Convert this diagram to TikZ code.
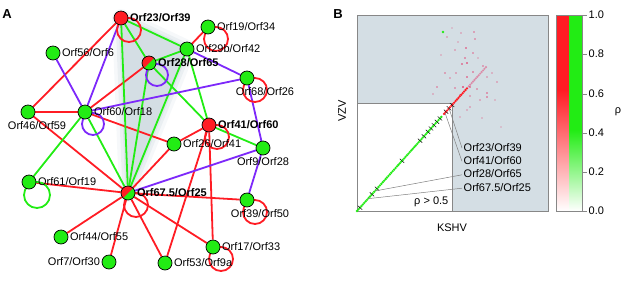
\documentclass[tikz,border=0pt]{standalone}
\usepackage{fontspec}
\setmainfont{Liberation Sans}
\usetikzlibrary{positioning, calc, backgrounds}

\definecolor{netred}{RGB}{255,28,36}
\definecolor{netgreen}{RGB}{34,236,20}
\definecolor{netpurple}{RGB}{125,40,250}
\definecolor{hullgray}{RGB}{212,222,228}
\definecolor{framegray}{RGB}{135,135,135}
\definecolor{dotpink}{RGB}{228,40,95}
\definecolor{barpink}{RGB}{255,90,140}

\begin{document}
\begin{tikzpicture}[
        x=1pt, y=-1pt,
        font=\fontsize{11}{13}\selectfont,
        % Styles
        orf/.style={circle, draw=black, line width=0.7pt, minimum size=14pt, inner sep=0pt, fill=#1},
        orfsplit/.style={orf=netgreen, path picture={\fill[netred] (path picture bounding box.south west) -- (path picture bounding box.north east) -- (path picture bounding box.north west) -- cycle;}},
        lbl/.style={inner sep=1.5pt},
        hub/.style={lbl, font=\fontsize{11}{13}\selectfont\bfseries},
        blbl/.style={lbl, text height=8pt, text depth=2pt},
        rlink/.style={draw=netred, line width=1.8pt},
        glink/.style={draw=netgreen, line width=1.8pt},
        plink/.style={draw=netpurple, line width=1.8pt},
        leader/.style={draw=gray, line width=0.5pt},
        panel/.style={font=\fontsize{13}{15}\selectfont\bfseries}
    ]
    \useasboundingbox (0,0) rectangle (627,282);

    % Panel A: nodes
    \node[panel] (pa) at (7,14) {A};
    \node[orf=netred, label={[hub]right:Orf23/Orf39}] (orf23) at (121,18) {};
    \node[orf=netgreen, label={[lbl]right:Orf19/Orf34}] (orf19) at (208,27) {};
    \node[orf=netgreen, label={[lbl]right:Orf29b/Orf42}] (orf29b) at (187,49) {};
    \node[orfsplit, label={[hub]right:Orf28/Orf65}] (orf28) at (149,63) {};
    \node[orf=netgreen, label={[lbl]right:Orf56/Orf6}] (orf56) at (53,53) {};
    \node[orf=netgreen, label={[lbl, xshift=18pt]below:Orf68/Orf26}] (orf68) at (247,78) {};
    \node[orf=netgreen, label={[lbl]right:Orf60/Orf18}] (orf60) at (85,112) {};
    \node[orf=netgreen, label={[lbl, xshift=9pt]below:Orf46/Orf59}] (orf46) at (28,112) {};
    \node[orf=netred, label={[hub]right:Orf41/Orf60}] (orf41) at (209,125) {};
    \node[orf=netgreen, label={[lbl]right:Orf26/Orf41}] (orf26) at (174,144) {};
    \node[orf=netgreen, label={[lbl]below:Orf9/Orf28}] (orf9) at (263,148) {};
    \node[orf=netgreen, label={[lbl]right:Orf61/Orf19}] (orf61) at (29,182) {};
    \node[orfsplit, label={[hub]right:Orf67.5/Orf25}] (orf67) at (128,193) {};
    \node[orf=netgreen, label={[lbl, xshift=13pt]below:Orf39/Orf50}] (orf39) at (247,200) {};
    \node[orf=netgreen, label={[lbl]right:Orf44/Orf55}] (orf44) at (61,237) {};
    \node[orf=netgreen, label={[lbl]left:Orf7/Orf30}] (orf7) at (109,262) {};
    \node[orf=netgreen, label={[lbl]right:Orf17/Orf33}] (orf17) at (213,247) {};
    \node[orf=netgreen, label={[lbl]right:Orf53/Orf9a}] (orf53) at (165,263) {};

    % Panel A: hull and links under the nodes
    \begin{scope}[on background layer]
        \fill[hullgray] (orf23.center) -- (orf29b.center) -- (orf67.center) -- cycle;
        \foreach \w/\o in {18/0.2, 11/0.35, 5/0.6}
            \draw[hullgray, line width=\w pt, opacity=\o, line join=round] (orf23.center) -- (orf29b.center) -- (orf67.center) -- cycle;

        \foreach \a/\b in {orf23/orf46, orf19/orf29b, orf28/orf60, orf46/orf60, orf46/orf67, orf60/orf26, orf41/orf26, orf26/orf67, orf61/orf67, orf67/orf44, orf67/orf7, orf67/orf53, orf67/orf17, orf67/orf39, orf41/orf53, orf41/orf17}
            \draw[rlink] (\a) -- (\b);
        \foreach \a/\b in {orf23/orf29b, orf23/orf28, orf23/orf67, orf28/orf29b, orf28/orf41, orf28/orf67, orf29b/orf41, orf29b/orf67, orf60/orf67, orf60/orf61, orf41/orf9}
            \draw[glink] (\a) -- (\b);
        \foreach \a/\b in {orf23/orf60, orf56/orf60, orf60/orf68, orf29b/orf68, orf68/orf9, orf9/orf39, orf9/orf67}
            \draw[plink] (\a) -- (\b);

        % self loops
        \foreach \n in {orf23, orf19, orf68, orf41, orf67, orf39, orf17}
            \draw[rlink] ([shift={(8,12)}]\n.center) circle[radius=12pt];
        \foreach \n in {orf28, orf60}
            \draw[plink] ([shift={(8,12)}]\n.center) circle[radius=11pt];
        \draw[glink] ([shift={(8,13)}]orf61.center) circle[radius=13pt];
    \end{scope}

    % Panel B: plot area
    \node[panel] (pb) at (338,14) {B};
    \fill[hullgray] (357,15) rectangle (548,211);
    \fill[white] (357,103) rectangle (452,211);
    \draw[framegray] (357,103) -| (452,211);
    \draw[framegray] (357,15) rectangle (548,211);

    % scatter above threshold
    \foreach \px/\py/\op in {474/32/0.5, 461/33/0.35, 447/37/0.4, 475/39/0.5, 466/48/0.7, 455/50/0.4, 473/53/0.5, 465/58/0.6, 467/63/0.8, 462/64/0.7, 483/66/0.5, 445/73/0.5, 456/73/0.45, 473/72/0.6, 492/73/0.35, 450/78/0.4, 467/77/0.7, 487/77/0.4, 437/87/0.5, 463/87/0.9, 470/87/0.7, 477/89/0.5, 487/93/0.6, 487/97/0.6, 460/95/0.5, 433/94/0.35, 480/100/0.4, 470/107/0.4, 460/117/0.3, 482/118/0.3, 467/110/0.35, 501/127/0.25, 495/100/0.3, 497/82/0.4, 452/28/0.25, 458/42/0.3, 478/58/0.3, 441/55/0.3, 455/88/0.5, 470/96/0.45}
        \fill[dotpink, opacity=0.65*\op] (\px-1.3,\py-1.3) rectangle ++(2.6,2.6);
    \fill[netgreen] (443,32) circle (1.3pt);

    % diagonal
    \coordinate (diaglo) at (357,211);
    \coordinate (diaghi) at (487,66);
    \foreach \t in {0,0.011,...,0.66}
        \fill[netgreen] ($(diaglo)!\t!(diaghi)$) circle (1.3pt);
    \foreach \t in {0.67,0.681,...,0.85}
        \fill[netred] ($(diaglo)!\t!(diaghi)$) circle (1.3pt);
    \foreach \t in {0.86,0.871,...,1}
        \fill[dotpink, opacity=0.45] ($(diaglo)!\t!(diaghi)$) circle (1.2pt);
    \foreach \t in {0.023, 0.115, 0.154, 0.346, 0.485, 0.515, 0.546, 0.569, 0.592, 0.615, 0.638, 0.685, 0.708, 0.731}
        \draw[black, line width=0.45pt] ($(diaglo)!\t!(diaghi)$) ++(-2.2,-2) -- ++(4.4,4);

    % labelled pairs
    \node[blbl, anchor=west] (b23) at (462,148) {Orf23/Orf39};
    \node[blbl, below=0pt of b23.south west, anchor=north west] (b41) {Orf41/Orf60};
    \node[blbl, below=0pt of b41.south west, anchor=north west] (b28) {Orf28/Orf65};
    \node[blbl, below=0pt of b28.south west, anchor=north west] (b67) {Orf67.5/Orf25};
    \coordinate (d23) at ($(diaglo)!0.708!(diaghi)$);
    \coordinate (d41) at ($(diaglo)!0.677!(diaghi)$);
    \coordinate (d28) at ($(diaglo)!0.138!(diaghi)$);
    \coordinate (d67) at ($(diaglo)!0.085!(diaghi)$);
    \draw[leader] (d23) -- (b23.west);
    \draw[leader] (d41) -- (b41.west);
    \draw[leader] (d28) -- (b28.west);
    \draw[leader] (d67) -- (b67.west);

    \node[lbl, anchor=east] (rho) at (450,202) {ρ > 0.5};
    \node[rotate=90] (vzv) at (342,111) {VZV};
    \node (kshv) at (452,228) {KSHV};

    % colour bar
    \fill[netred] (556,15) rectangle (569,90);
    \shade[top color=netred, middle color=barpink, bottom color=white] (556,90) rectangle (569,211);
    \fill[netgreen] (569,15) rectangle (582,130);
    \shade[top color=netgreen, bottom color=white] (569,130) rectangle (582,211);
    \draw[framegray] (556,15) rectangle (582,211);
    \foreach \v/\yy in {0.0/211, 0.2/172, 0.4/133, 0.6/94, 0.8/54, 1.0/15} {
        \draw[framegray] (582,\yy) -- (587,\yy);
        \node[lbl, anchor=west] at (587,\yy) {\v};
    }
    \node (rhobar) at (618,112) {ρ};

\end{tikzpicture}
\end{document}
